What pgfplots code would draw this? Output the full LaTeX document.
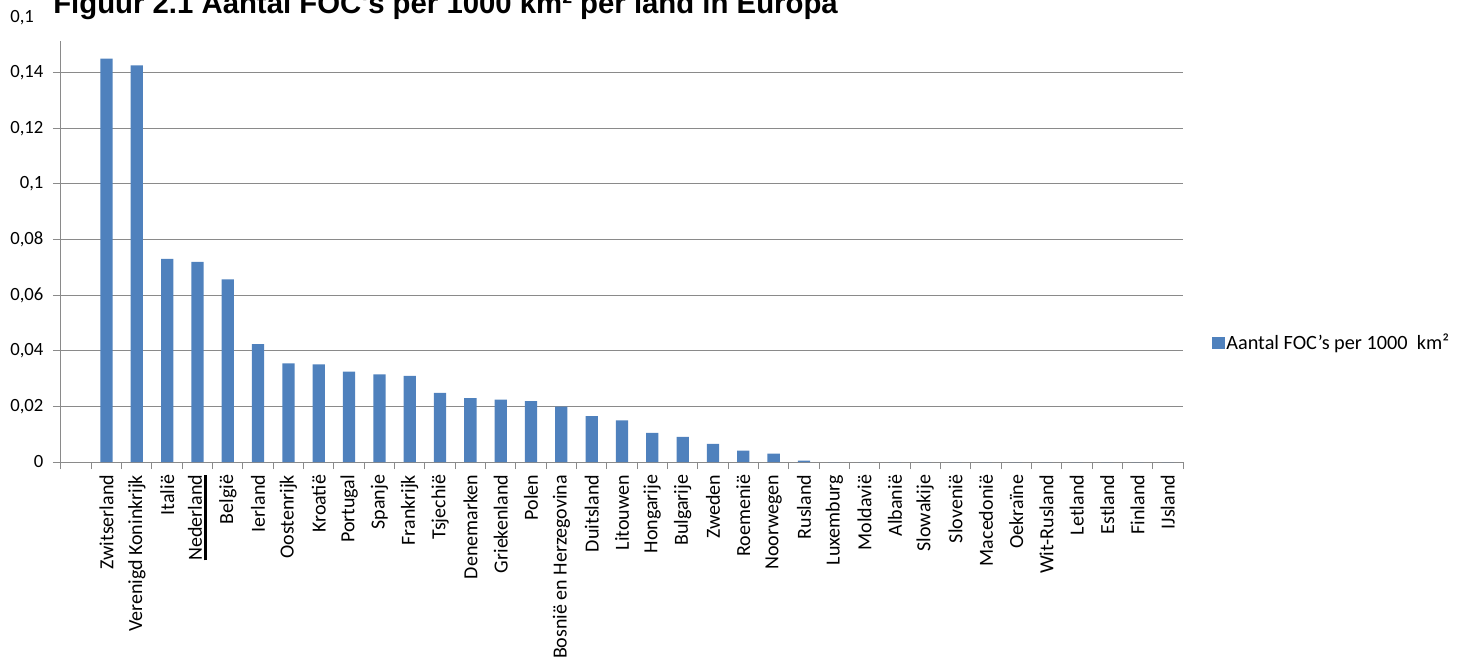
\documentclass[border=0pt]{standalone}
\usepackage{pgfplots}
\pgfplotsset{compat=1.18}
\usepackage{fontspec}
\setmainfont{Carlito}
\newfontfamily\titlefont{Liberation Sans}
\definecolor{barblue}{HTML}{4F81BD}
\definecolor{gridgray}{HTML}{8A8A8A}
\newcommand{\ul}[1]{\setbox0\hbox{#1}\rlap{\rule[-3.9pt]{\wd0}{2.4pt}}\box0}
\begin{document}
\begin{tikzpicture}
\begin{axis}[
  at={(45.75pt,-346.5pt)}, anchor=south west,
  scale only axis, width=841.5pt, height=333.75pt,
  xmin=-0.5, xmax=36.5, ymin=0, ymax=0.16,
  ybar, bar width=9.2pt,
  axis x line*=bottom, axis y line*=left,
  axis line style={gridgray, line width=0.75pt},
  ytick={0,0.02,0.04,0.06,0.08,0.1,0.12,0.14,0.16},
  yticklabels={0,{0,02},{0,04},{0,06},{0,08},{0,1},{0,12},{0,14},{0,16}},
  ymajorgrids, grid style={gridgray, line width=0.75pt},
  xtick={1,...,36},
  xticklabels={Zwitserland,Verenigd Koninkrijk,Italië,\ul{Nederland},België,Ierland,Oostenrijk,Kroatië,Portugal,Spanje,Frankrijk,Tsjechië,Denemarken,Griekenland,Polen,Bosnië en Herzegovina,Duitsland,Litouwen,Hongarije,Bulgarije,Zweden,Roemenië,Noorwegen,Rusland,Luxemburg,Moldavië,Albanië,Slowakije,Slovenië,Macedonië,Oekraïne,Wit-Rusland,Letland,Estland,Finland,IJsland},
  minor xtick={-0.5,0.5,...,36.5},
  major x tick style={draw=none},
  minor x tick style={gridgray, line width=0.75pt},
  y tick style={gridgray, line width=0.75pt},
  tick align=outside, major tick length=6pt, minor tick length=5.25pt,
  yticklabel style={anchor=east, inner sep=0pt, font=\fontsize{14}{16}\selectfont},
  xticklabel style={rotate=90, anchor=east, inner sep=0pt, font=\fontsize{15}{17}\selectfont},
  xticklabel shift=3.5pt, yticklabel shift=7pt,
  legend style={draw=none, fill=none, at={(1.026,0.2674)}, anchor=west,
    font=\fontsize{15.2}{17}\selectfont, inner sep=0pt,
    nodes={inner sep=1pt}},
  legend image code/.code={\fill[barblue] (0pt,-4.7pt) rectangle (9.4pt,4.7pt);},
]
\addplot[fill=barblue, draw=none] coordinates {
(1,0.1450) (2,0.1426) (3,0.0730) (4,0.0720) (5,0.0657) (6,0.0424)
(7,0.0355) (8,0.0351) (9,0.0325) (10,0.0315) (11,0.0310) (12,0.0249)
(13,0.0230) (14,0.0224) (15,0.0219) (16,0.0199) (17,0.0165) (18,0.0150)
(19,0.0105) (20,0.0090) (21,0.0065) (22,0.0041) (23,0.0030) (24,0.0005)
(25,0) (26,0) (27,0) (28,0) (29,0) (30,0) (31,0) (32,0) (33,0) (34,0) (35,0) (36,0)
};
\addlegendentry{Aantal FOC's per 1000\ \ km²}
\end{axis}
\fill[white] (24.75pt,5pt) rectangle (900pt,-30.75pt);
\node[anchor=base west, inner sep=0pt, font=\titlefont\bfseries\fontsize{22}{26}\selectfont] at (39.75pt,-10.5pt) {Figuur 2.1 Aantal FOC's per 1000 km² per land in Europa};
\pgfresetboundingbox
\useasboundingbox (0,0) rectangle (1098pt,-500.25pt);
\end{tikzpicture}
\end{document}
